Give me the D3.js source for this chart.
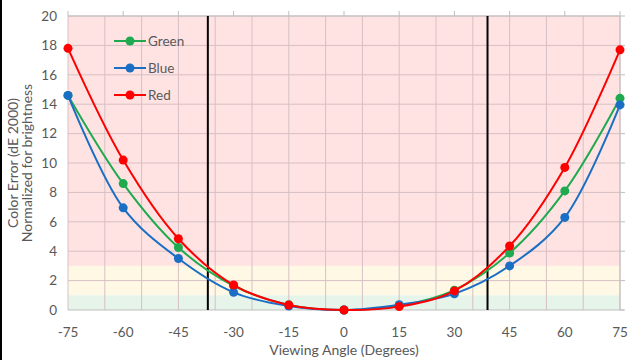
<!DOCTYPE html>
<html>
<head>
<meta charset="utf-8">
<script src="https://cdn.jsdelivr.net/npm/d3@7"></script>
<style>
  body { margin: 0; background: #fff; }
  svg { display: block; font-family: Lato, "Open Sans", sans-serif; }
</style>
</head>
<body>
<div id="chart"></div>
<script>
const angles = [-75, -60, -45, -30, -15, 0, 15, 30, 45, 60, 75];
const green = [14.6, 8.6, 4.25, 1.65, 0.35, 0, 0.28, 1.35, 3.87, 8.1, 14.4];
const blue = [14.6, 6.95, 3.5, 1.2, 0.27, 0, 0.36, 1.1, 3.0, 6.3, 13.95];
const red = [17.8, 10.2, 4.85, 1.7, 0.34, 0, 0.23, 1.3, 4.35, 9.7, 17.7];
const seriesNames = ["Green", "Blue", "Red"];
const seriesColors = ["#1faa4f", "#1a6fc4", "#ff0000"];
const xTicks = [-75, -60, -45, -30, -15, 0, 15, 30, 45, 60, 75];
const yTicks = [0, 2, 4, 6, 8, 10, 12, 14, 16, 18, 20];
const bands = [
  { from: 3, to: 20, color: "#ffe3e3" },
  { from: 1, to: 3, color: "#fff8e4" },
  { from: 0, to: 1, color: "#e6f4ea" }
];
const markerLines = [-37, 39];

const W = 644, H = 360;
const margin = { top: 16, right: 24, bottom: 50, left: 68 };
const width = W - margin.left - margin.right;
const height = H - margin.top - margin.bottom;

const svg = d3.select("#chart").append("svg")
  .attr("width", W).attr("height", H);

// left edge border
svg.append("rect").attr("x", 0).attr("y", 0).attr("width", 2).attr("height", H).attr("fill", "#000");

const g = svg.append("g").attr("transform", `translate(${margin.left},${margin.top})`);

const x = d3.scaleLinear().domain([-75, 75]).range([0, width]);
const y = d3.scaleLinear().domain([0, 20]).range([height, 0]);

g.selectAll("rect.band")
  .data(bands)
  .enter().append("rect")
  .attr("class", "band")
  .attr("x", 0)
  .attr("width", width)
  .attr("y", d => y(d.to))
  .attr("height", d => y(d.from) - y(d.to))
  .attr("fill", d => d.color);

// gridlines
const vGrid = d3.range(-75, 76, 10);
g.selectAll("line.vg").data(vGrid).enter().append("line")
  .attr("x1", d => x(d)).attr("x2", d => x(d))
  .attr("y1", 0).attr("y2", height)
  .attr("stroke", "#d6c0c4").attr("stroke-width", 1);
g.selectAll("line.hg").data(yTicks.filter(d => d > 0)).enter().append("line")
  .attr("x1", 0).attr("x2", width)
  .attr("y1", d => y(d)).attr("y2", d => y(d))
  .attr("stroke", "#d6c0c4").attr("stroke-width", 1);

// axes
g.append("line").attr("x1", 0).attr("x2", width + 4).attr("y1", height).attr("y2", height)
  .attr("stroke", "#bfbfbf");
g.append("line").attr("x1", width).attr("x2", width).attr("y1", 0).attr("y2", height)
  .attr("stroke", "#bfbfbf");
g.append("line").attr("x1", 0).attr("x2", width).attr("y1", 0).attr("y2", 0)
  .attr("stroke", "#bfbfbf");
g.selectAll("line.tt").data(xTicks).enter().append("line")
  .attr("x1", d => x(d)).attr("x2", d => x(d)).attr("y1", 0).attr("y2", -5)
  .attr("stroke", "#bfbfbf");
g.selectAll("line.rt").data(yTicks).enter().append("line")
  .attr("x1", width).attr("x2", width + 5).attr("y1", d => y(d)).attr("y2", d => y(d))
  .attr("stroke", "#bfbfbf");

g.selectAll("text.xt").data(xTicks).enter().append("text")
  .attr("x", d => x(d)).attr("y", height + 27)
  .attr("text-anchor", "middle").attr("fill", "#595959").attr("font-size", 13.5)
  .text(d => d);
g.selectAll("text.yt").data(yTicks).enter().append("text")
  .attr("x", -11).attr("y", d => y(d)).attr("dy", "0.35em")
  .attr("text-anchor", "end").attr("fill", "#595959").attr("font-size", 13.5)
  .text(d => d);

g.append("text")
  .attr("x", width / 2).attr("y", height + 45)
  .attr("text-anchor", "middle").attr("fill", "#595959").attr("font-size", 14)
  .text("Viewing Angle (Degrees)");
const yt = g.append("text")
  .attr("transform", "rotate(-90)")
  .attr("text-anchor", "middle").attr("fill", "#595959").attr("font-size", 14);
yt.append("tspan").attr("x", -height / 2).attr("y", -50).text("Color Error (dE 2000)");
yt.append("tspan").attr("x", -height / 2).attr("y", -36).text("Normalized for brightness");

// reference lines
g.selectAll("line.ref").data(markerLines).enter().append("line")
  .attr("x1", d => x(d)).attr("x2", d => x(d)).attr("y1", 0).attr("y2", height)
  .attr("stroke", "#000").attr("stroke-width", 2);

const series = [green, blue, red].map((vals, i) => ({
  name: seriesNames[i], color: seriesColors[i],
  points: angles.map((a, j) => ({ a, v: vals[j] }))
}));

const line = d3.line()
  .x(d => x(d.a)).y(d => y(d.v))
  .curve(d3.curveCatmullRom.alpha(0.5));

const sg = g.selectAll("g.series").data(series).enter().append("g");
sg.append("path")
  .attr("d", d => line(d.points))
  .attr("fill", "none").attr("stroke", d => d.color).attr("stroke-width", 2);
sg.selectAll("circle").data(d => d.points.map(p => ({ ...p, color: d.color })))
  .enter().append("circle")
  .attr("cx", d => x(d.a)).attr("cy", d => y(d.v)).attr("r", 4.5)
  .attr("fill", d => d.color);

// legend
const lg = svg.append("g").attr("transform", "translate(114,41)");
const li = lg.selectAll("g").data(series).enter().append("g")
  .attr("transform", (d, i) => `translate(0,${i * 27})`);
li.append("line").attr("x1", 0).attr("x2", 32).attr("stroke", d => d.color).attr("stroke-width", 2);
li.append("circle").attr("cx", 16).attr("r", 4.5).attr("fill", d => d.color);
li.append("text").attr("x", 34).attr("dy", "0.35em")
  .attr("fill", "#595959").attr("font-size", 13.5).text(d => d.name);
</script>
</body>
</html>
